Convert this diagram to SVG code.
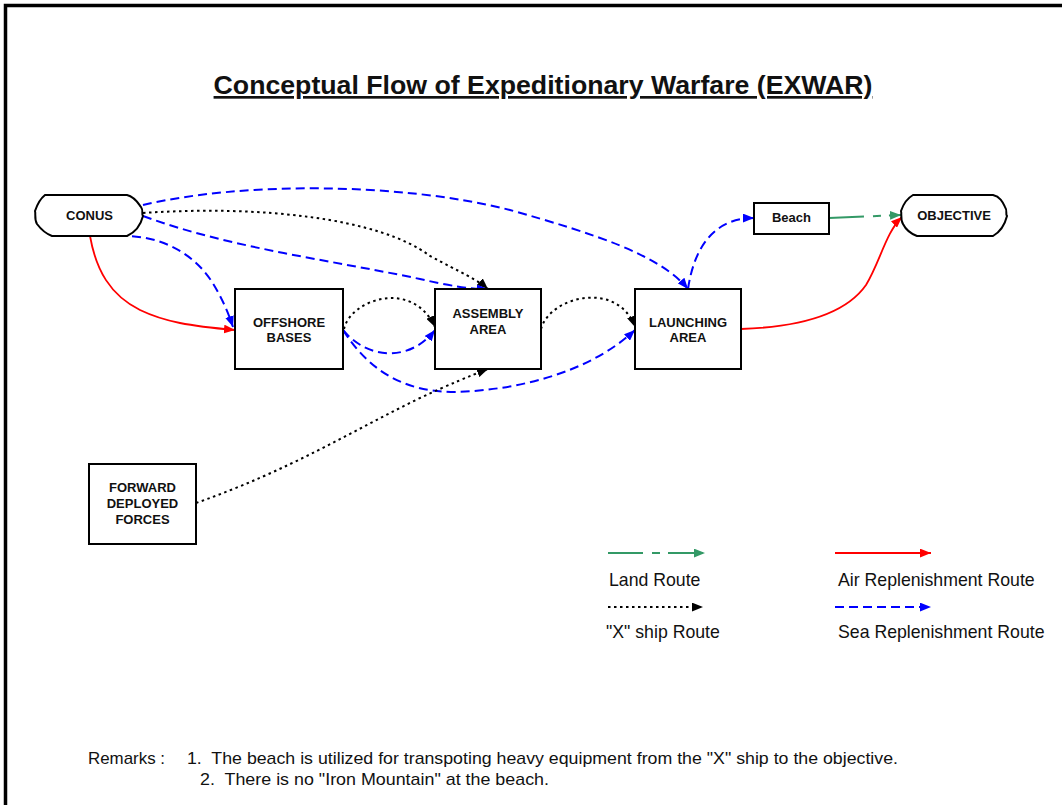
<svg xmlns="http://www.w3.org/2000/svg" width="1062" height="805" viewBox="0 0 1062 805">
<style>
.box{fill:#fff;stroke:#000;stroke-width:2}
.nt{font-family:"Liberation Sans",Arial,sans-serif;font-weight:bold;font-size:13px;text-anchor:middle;fill:#111}
.lt{font-family:"Liberation Sans",Arial,sans-serif;font-size:17.7px;fill:#111}
.rt{font-family:"Liberation Sans",Arial,sans-serif;font-size:17px;fill:#111}
.blue{fill:none;stroke:#0000ff;stroke-width:2;stroke-dasharray:9 5;marker-end:url(#ab)}
.dot{fill:none;stroke:#000;stroke-width:2;stroke-dasharray:2.5 3.5;marker-end:url(#ak)}
.red{fill:none;stroke:#ff0000;stroke-width:1.8;marker-end:url(#ar)}
.green{fill:none;stroke:#339966;stroke-width:2;stroke-dasharray:35 9 8 8;marker-end:url(#ag)}
</style>
<defs>
<marker id="ab" viewBox="0 0 10 8" refX="10" refY="4" markerWidth="11" markerHeight="9" orient="auto" markerUnits="userSpaceOnUse"><path d="M0,0 L10,4 L0,8z" fill="#0000ff"/></marker>
<marker id="ak" viewBox="0 0 10 8" refX="10" refY="4" markerWidth="11" markerHeight="9" orient="auto" markerUnits="userSpaceOnUse"><path d="M0,0 L10,4 L0,8z" fill="#000"/></marker>
<marker id="ar" viewBox="0 0 10 8" refX="10" refY="4" markerWidth="11" markerHeight="9" orient="auto" markerUnits="userSpaceOnUse"><path d="M0,0 L10,4 L0,8z" fill="#ff0000"/></marker>
<marker id="ag" viewBox="0 0 10 8" refX="10" refY="4" markerWidth="11" markerHeight="9" orient="auto" markerUnits="userSpaceOnUse"><path d="M0,0 L10,4 L0,8z" fill="#339966"/></marker>
</defs>
<rect width="1062" height="805" fill="#fff"/>
<path d="M5.5,805 V5.5 H1062" fill="none" stroke="#000" stroke-width="3.5"/>
<text x="543" y="94" text-anchor="middle" font-family="'Liberation Sans',Arial,sans-serif" font-weight="bold" font-size="26.7" text-decoration="underline" fill="#111">Conceptual Flow of Expeditionary Warfare (EXWAR)</text>

<g id="connectors">
<path class="red" d="M90,236 C96,270 110,295 140,310 C165,322 190,326 235,330"/>
<path class="blue" d="M90,236 H130 C165,238 195,255 212,282 C222,298 228,312 233,327"/>
<path class="blue" d="M143,205 C240,182 400,182 510,210 C595,234 660,255 688,289"/>
<path class="dot" d="M143,213 C260,205 380,218 430,256 C460,272 478,280 488,289"/>
<path class="blue" d="M143,216 C230,248 330,260 420,279 C450,286 470,289 488,289"/>
<path class="dot" d="M344,329 C350,300 412,278 435,327"/>
<path class="blue" d="M343,330 C368,360 410,362 435,330"/>
<path class="blue" d="M343,330 C370,372 405,392 455,392 C520,390 590,372 635,330"/>
<path class="dot" d="M541,329 C550,296 618,280 635,327"/>
<path class="dot" d="M196,503 C290,470 350,432 420,398 C450,384 470,376 488,369"/>
<path class="blue" d="M688,289 C695,242 718,218 754,218"/>
<path class="green" d="M829,218 L901,215"/>
<path class="red" d="M741,329 C800,327 845,315 866,285 C880,262 886,232 902,217"/>
</g>

<g id="conus">
<path d="M45,195 H127 C135,197 138,203 141,207 C144,211 141,214 143,216 C141,224 136,232 127,236 H52 C44,233 40,228 37,224 C34,219 36,214 35,211 C37,205 40,199 45,195Z" fill="#fff" stroke="#000" stroke-width="2"/>
<text class="nt" x="89.5" y="220">CONUS</text>
</g>
<g id="objective">
<path d="M913,195 H993 C1001,197 1003,203 1005,207 C1008,211 1005,214 1007,216 C1005,224 1000,232 993,236 H917 C909,233 905,228 903,224 C900,219 902,214 901,211 C903,205 906,199 913,195Z" fill="#fff" stroke="#000" stroke-width="2"/>
<text class="nt" x="954" y="220">OBJECTIVE</text>
</g>
<g id="beach">
<rect class="box" x="754" y="203" width="75" height="31"/>
<text class="nt" x="791.5" y="222">Beach</text>
</g>
<g id="offshore">
<rect class="box" x="235" y="289" width="108" height="80"/>
<text class="nt" x="289" y="327">OFFSHORE</text>
<text class="nt" x="289" y="342">BASES</text>
</g>
<g id="assembly">
<rect class="box" x="435" y="289" width="106" height="80"/>
<text class="nt" x="488" y="318">ASSEMBLY</text>
<text class="nt" x="488" y="334">AREA</text>
</g>
<g id="launching">
<rect class="box" x="635" y="289" width="106" height="80"/>
<text class="nt" x="688" y="327">LAUNCHING</text>
<text class="nt" x="688" y="342">AREA</text>
</g>
<g id="forward">
<rect class="box" x="89" y="464" width="107" height="80"/>
<text class="nt" x="142.5" y="492">FORWARD</text>
<text class="nt" x="142.5" y="508">DEPLOYED</text>
<text class="nt" x="142.5" y="524">FORCES</text>
</g>

<g id="legend">
<path class="green" d="M608,553 H705"/>
<text class="lt" x="609" y="586">Land Route</text>
<path class="red" d="M835,553 H931"/>
<text class="lt" x="838" y="586">Air Replenishment Route</text>
<path class="dot" d="M608,607 H703"/>
<text class="lt" x="606" y="638">"X" ship Route</text>
<path class="blue" d="M835,607 H931"/>
<text class="lt" x="838" y="638">Sea Replenishment Route</text>
</g>

<g id="remarks">
<text class="rt" x="88" y="764" textLength="77" lengthAdjust="spacingAndGlyphs">Remarks :</text>
<text class="rt" x="187" y="764" textLength="711" lengthAdjust="spacingAndGlyphs" xml:space="preserve">1.  The beach is utilized for transpoting heavy equipment from the "X" ship to the objective.</text>
<text class="rt" x="200" y="785" textLength="349" lengthAdjust="spacingAndGlyphs" xml:space="preserve">2.  There is no "Iron Mountain" at the beach.</text>
</g>
</svg>
